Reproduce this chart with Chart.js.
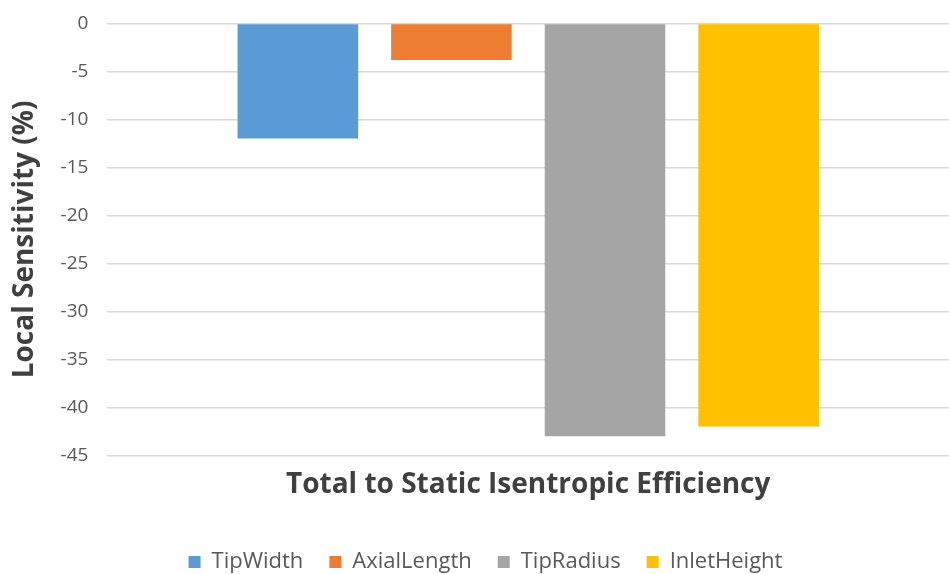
<!DOCTYPE html>
<html>
<head>
<meta charset="utf-8">
<script src="https://cdn.jsdelivr.net/npm/chart.js@4/dist/chart.umd.min.js"></script>
<style>
  html, body { margin: 0; padding: 0; background: #fff; overflow: hidden; }
  #wrap { width: 949px; height: 581px; position: absolute; left: 0; top: -7px; }
</style>
</head>
<body>
<div id="wrap"><canvas id="barChart"></canvas></div>
<script>
// sensitivity of the efficiency to each geometry parameter
var categories = ['Total to Static Isentropic Efficiency'];
var seriesNames = ['TipWidth', 'AxialLength', 'TipRadius', 'InletHeight'];
var seriesValues = [-12, -3.8, -43, -42];
var seriesColors = ['#5b9bd5', '#ed7d31', '#a5a5a5', '#ffc000'];
var yTicks = [0, -5, -10, -15, -20, -25, -30, -35, -40, -45];

var fontFamily = '"Open Sans", sans-serif';

var datasets = seriesNames.map(function (name, i) {
    return {
        label: name,
        data: [seriesValues[i]],
        backgroundColor: seriesColors[i],
        borderWidth: 0,
        barPercentage: 0.785,
        categoryPercentage: 0.73
    };
});

const ctx = document.getElementById('barChart');

var myChart = new Chart(ctx, {
    type: 'bar',
    data: {
        labels: [''],
        datasets: datasets
    },
    options: {
        responsive: true,
        maintainAspectRatio: false,
        animation: false,
        layout: {
            padding: { top: 0, right: -14, left: 8, bottom: -9 }
        },
        scales: {
            x: {
                grid: { display: false },
                border: { display: false },
                ticks: { display: false },
                title: {
                    display: true,
                    text: categories[0],
                    color: '#404040',
                    font: { family: fontFamily, size: 28, weight: 'bold' },
                    padding: { top: 5, bottom: 23 }
                }
            },
            y: {
                min: yTicks[yTicks.length - 1],
                max: yTicks[0],
                afterBuildTicks: function (axis) {
                    axis.ticks = yTicks.map(function (v) { return { value: v }; });
                },
                grid: {
                    color: '#d9d9d9',
                    lineWidth: 1.5,
                    drawTicks: false
                },
                border: { display: false },
                ticks: {
                    color: '#595959',
                    padding: 19,
                    font: { family: fontFamily, size: 19 }
                },
                title: {
                    display: true,
                    text: 'Local Sensitivity (%)',
                    color: '#404040',
                    font: { family: fontFamily, size: 28, weight: 'bold' },
                    padding: { top: 0, bottom: 0 }
                }
            }
        },
        plugins: {
            legend: {
                position: 'bottom',
                labels: {
                    boxWidth: 12,
                    boxHeight: 12,
                    padding: 26,
                    color: '#595959',
                    font: { family: fontFamily, size: 22 }
                }
            },
            tooltip: { enabled: false }
        }
    }
});
</script>
</body>
</html>
